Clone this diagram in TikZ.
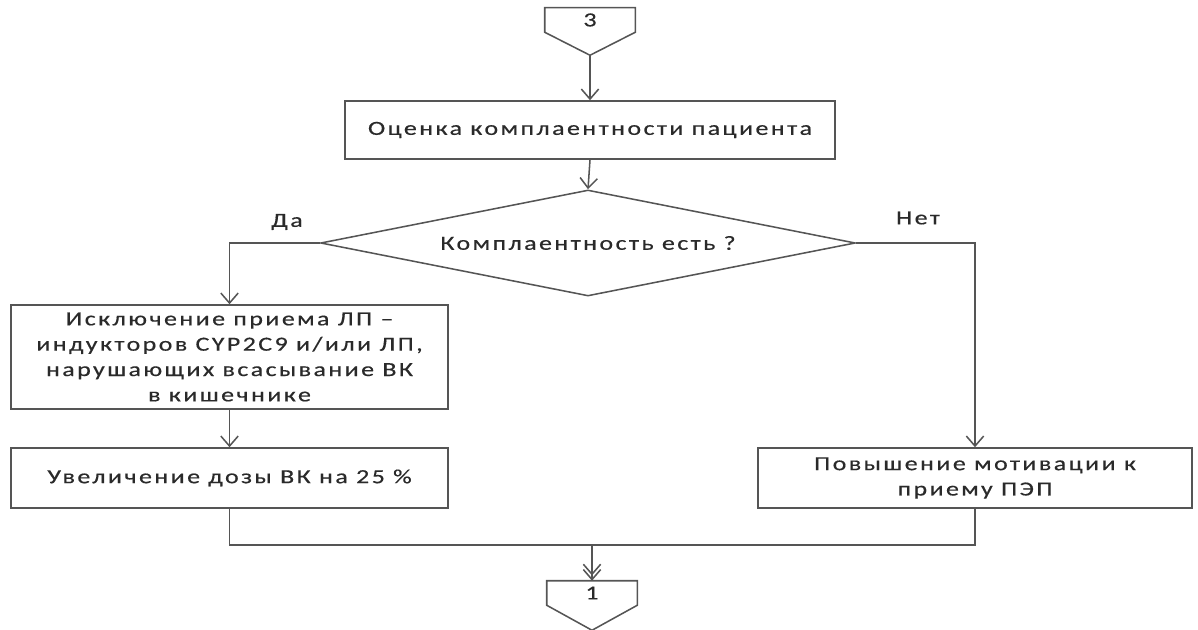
\documentclass[tikz,border=0pt]{standalone}
\usepackage{fontspec}
\setmainfont{Carlito}[FakeStretch=1.3,LetterSpace=12,FakeBold=0.4]
\usetikzlibrary{shapes.geometric,arrows.meta,calc}

\definecolor{linegray}{HTML}{555555}
\definecolor{textgray}{HTML}{2A2A2A}

\begin{document}
\begin{tikzpicture}[x=0.75pt,y=-0.75pt,
    every node/.style={text=textgray,font=\fontsize{15}{19}\selectfont},
    block/.style={draw=linegray,line width=1.15pt,fill=white,align=center,inner sep=0pt},
    decision/.style={diamond,aspect=5.05,draw=linegray,line width=1.15pt,inner sep=0pt},
    offpage/.style={inner sep=0pt,minimum width=67.5pt,minimum height=18pt},
    line/.style={draw=linegray,line width=1.15pt},
    flow/.style={line,-{Straight Barb[length=7.5pt,width=13pt]}}]
\useasboundingbox (0,0) rectangle (1198,630);

\node[offpage] (c3) at (590,20) {3};
\node[block,minimum width=367.5pt,minimum height=43.5pt] (n0) at (590,130)
    {Оценка комплаентности пациента};
\node[decision,minimum width=401pt,minimum height=79.5pt] (q) at (588,243)
    {Комплаентность есть ?};
\node[block,minimum width=328pt,minimum height=78pt] (n1) at (229.5,357)
    {Исключение приема ЛП –\\индукторов CYP2C9 и/или ЛП,\\нарушающих всасывание ВК\\в кишечнике};
\node[block,minimum width=328pt,minimum height=45pt] (n2) at (229.5,478)
    {Увеличение дозы ВК на 25 \%};
\node[block,minimum width=325.5pt,minimum height=45pt] (n3) at (975,478)
    {Повышение мотивации к\\приему ПЭП};
\node[offpage] (c1) at (592,593) {1};
\node (yes) at (287,222) {Да};
\node (no) at (918,218) {Нет};

% off-page connectors
\coordinate (c3tip) at ($(c3.south)+(0,23)$);
\coordinate (c1tip) at ($(c1.south)+(0,25)$);
\draw[line] (c3.north west) -- (c3.south west) -- (c3tip) -- (c3.south east) -- (c3.north east) -- cycle;
\draw[line] (c1.north west) -- (c1.south west) -- (c1tip) -- (c1.south east) -- (c1.north east) -- cycle;

\coordinate (join) at (592,545);
\draw[flow] (c3tip) -- (n0.north);
\draw[flow] (n0.south) -- (q.north);
\draw[flow] (q.west) -| (n1.north);
\draw[flow] (q.east) -| (n3.north);
\draw[flow] (n1.south) -- (n2.north);
\draw[flow] (n2.south) |- (join) -- (c1.north);
\draw[flow,shorten >=4pt] (n3.south) |- (join) -- (c1.north);
\end{tikzpicture}
\end{document}
